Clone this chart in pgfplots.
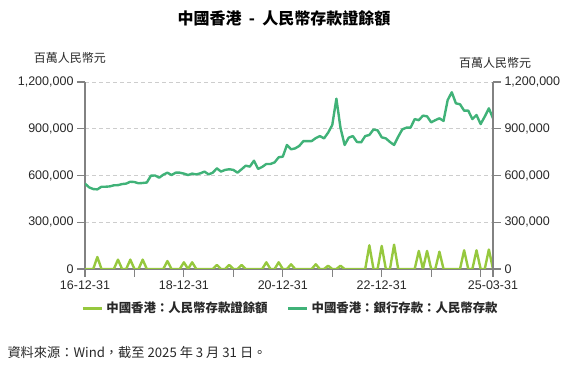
\documentclass[border=0pt]{standalone}
\usepackage{pgfplots}
\pgfplotsset{compat=1.18}
\usepackage{fontspec}
\setmainfont{Liberation Sans}
\newfontfamily\cjk{Noto Sans CJK TC}
\definecolor{cdgreen}{RGB}{150,200,62}
\definecolor{depgreen}{RGB}{64,178,120}
\definecolor{axgray}{RGB}{130,130,130}
\definecolor{gridgray}{RGB}{205,205,205}
\definecolor{txt}{RGB}{40,40,40}

\begin{document}
\begin{tikzpicture}
\pgfplotsset{
  common/.style={
    at={(85pt,105pt)}, anchor=south west,
    scale only axis, width=408pt, height=187pt,
    xmin=0, xmax=99, ymin=0, ymax=1200000,
    ytick={0,300000,600000,900000,1200000},
    scaled y ticks=false,
    /pgf/number format/.cd, fixed, 1000 sep={,}, assume math mode=true,
    /pgfplots/.cd,
    tick label style={font=\fontsize{12.5}{14}\selectfont, text=txt},
    tick align=outside,
    major tick length=8pt,
    every tick/.style={axgray, line width=1.1pt},
    axis line style={axgray, line width=1.2pt},
  }
}
\begin{axis}[common,
  axis x line*=bottom, axis y line*=left,
  xtick={0,12,24,36,48,60,72,84,96,99},
  xticklabels={16-12-31,,18-12-31,,20-12-31,,22-12-31,,,25-03-31},
  ymajorgrids,
  grid style={gridgray, dash pattern=on 4pt off 3pt, line width=0.9pt},
  legend style={at={(0.505,-0.209)}, anchor=center, draw=none, fill=none,
    legend columns=2, font=\cjk\bfseries\fontsize{12.4}{14}\selectfont, text=txt,
    /tikz/every even column/.append style={column sep=16pt},
    nodes={inner sep=3pt}},
  legend image code/.code={\draw[#1, line width=3pt] (0pt,0pt) -- (19pt,0pt);},
]
\addplot[cdgreen, line width=2.4pt, line join=round] coordinates {
(0,0)(1,0)(2,0)(3,77000)(4,0)(5,0)(6,0)(7,0)(8,60000)(9,0)
(10,0)(11,60000)(12,0)(13,0)(14,60000)(15,0)(16,0)(17,0)(18,0)(19,0)
(20,51000)(21,0)(22,0)(23,0)(24,43000)(25,0)(26,43000)(27,0)(28,0)(29,0)
(30,0)(31,0)(32,26000)(33,0)(34,0)(35,26000)(36,0)(37,0)(38,26000)(39,0)
(40,0)(41,0)(42,0)(43,0)(44,43000)(45,0)(46,0)(47,43000)(48,0)(49,0)
(50,30000)(51,0)(52,0)(53,0)(54,0)(55,0)(56,30000)(57,0)(58,0)(59,21000)
(60,0)(61,0)(62,21000)(63,0)(64,0)(65,0)(66,0)(67,0)(68,0)(69,152000)
(70,0)(71,0)(72,148000)(73,0)(74,0)(75,156000)(76,0)(77,0)(78,0)(79,0)
(80,0)(81,116000)(82,0)(83,116000)(84,0)(85,0)(86,111000)(87,0)(88,0)(89,0)
(90,0)(91,0)(92,120000)(93,0)(94,0)(95,120000)(96,0)(97,0)(98,125000)(99,0)
};
\addlegendentry{中國香港：人民幣存款證餘額}
\addplot[depgreen, line width=2.4pt, line join=round] coordinates {
(0,548000)(1,524000)(2,513000)(3,511000)(4,528000)(5,528000)(6,530000)(7,537000)(8,538000)(9,545000)
(10,548000)(11,560000)(12,558000)(13,550000)(14,552000)(15,555000)(16,599000)(17,600000)(18,586000)(19,605000)
(20,618000)(21,603000)(22,618000)(23,618000)(24,612000)(25,603000)(26,612000)(27,607000)(28,614000)(29,625000)
(30,607000)(31,618000)(32,646000)(33,625000)(34,636000)(35,640000)(36,636000)(37,618000)(38,640000)(39,663000)
(40,657000)(41,695000)(42,642000)(43,655000)(44,674000)(45,674000)(46,684000)(47,717000)(48,721000)(49,796000)
(50,768000)(51,774000)(52,790000)(53,821000)(54,821000)(55,821000)(56,840000)(57,853000)(58,838000)(59,875000)
(60,924000)(61,1093000)(62,905000)(63,796000)(64,843000)(65,853000)(66,815000)(67,813000)(68,853000)(69,860000)
(70,895000)(71,890000)(72,845000)(73,838000)(74,815000)(75,796000)(76,849000)(77,896000)(78,907000)(79,907000)
(80,962000)(81,955000)(82,984000)(83,980000)(84,941000)(85,955000)(86,967000)(87,950000)(88,1084000)(89,1134000)
(90,1063000)(91,1057000)(92,1016000)(93,1016000)(94,962000)(95,988000)(96,930000)(97,978000)(98,1031000)(99,967000)
};
\addlegendentry{中國香港：銀行存款：人民幣存款}
\end{axis}
\begin{axis}[common,
  axis x line=none, axis y line*=right,
]
\end{axis}
\node[font=\cjk\bfseries\fontsize{16}{18}\selectfont, text=black] at (284pt,356pt) {中國香港\ \ -\ \ 人民幣存款證餘額};
\node[font=\cjk\fontsize{12}{14}\selectfont, text=txt] at (70pt,316pt) {百萬人民幣元};
\node[font=\cjk\fontsize{12}{14}\selectfont, text=txt] at (495pt,311pt) {百萬人民幣元};
\node[font=\cjk\fontsize{13.2}{15}\selectfont, text=txt, anchor=west] at (4pt,22pt) {資料來源：Wind，截至 2025 年 3 月 31 日。};
\pgfresetboundingbox
\useasboundingbox (0,0) rectangle (568pt,374pt);
\end{tikzpicture}
\end{document}
